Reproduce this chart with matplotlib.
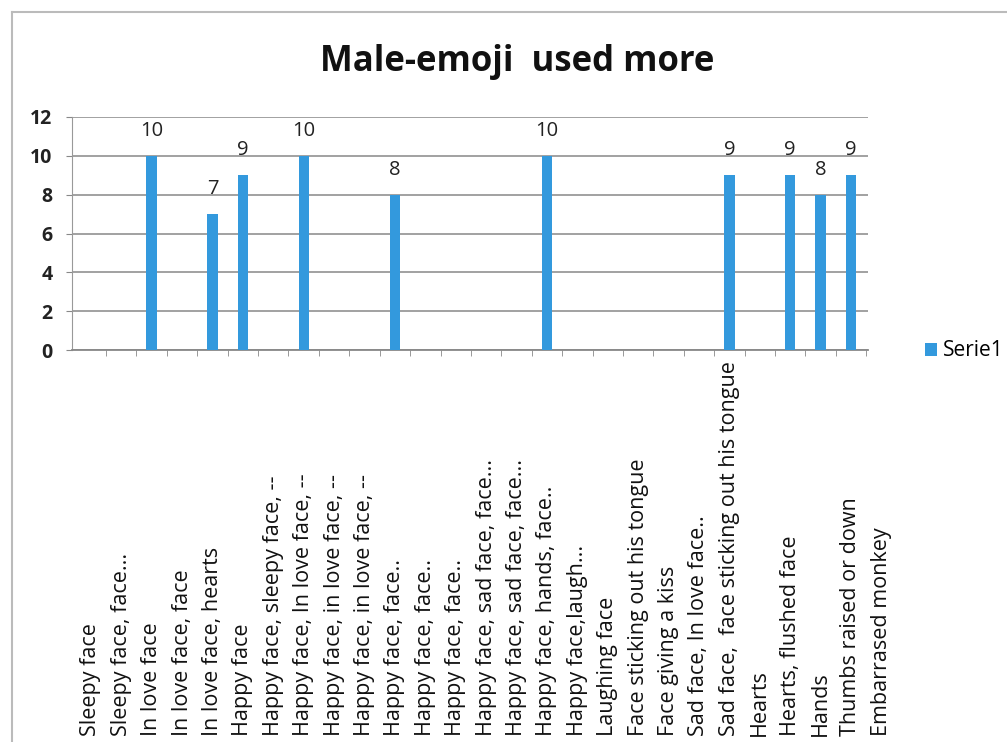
import matplotlib
matplotlib.use("Agg")
import matplotlib.pyplot as plt
import matplotlib.transforms as mtrans
from matplotlib.lines import Line2D
import numpy as np

plt.rcParams['font.family'] = ['Open Sans', 'DejaVu Sans']

categories = [
    "Sleepy face", "Sleepy face, face...", "In love face", "In love face, face",
    "In love face, hearts", "Happy face", "Happy face, sleepy face, --",
    "Happy face, In love face, --", "Happy face, in love face, --",
    "Happy face, in love face, --", "Happy face, face..", "Happy face, face..",
    "Happy face, face..", "Happy face, sad face, face...",
    "Happy face, sad face, face...", "Happy face, hands, face..",
    "Happy face,laugh...", "Laughing face", "Face sticking out his tongue",
    "Face giving a kiss", "Sad face, In love face..",
    "Sad face,  face sticking out his tongue", "Hearts", "Hearts, flushed face",
    "Hands", "Thumbs raised or down", "Embarrased monkey",
]
values = [0, 0, 10, 0, 7, 9, 0, 10, 0, 0, 8, 0, 0, 0, 0, 10, 0, 0, 0, 0, 0, 9, 0, 9, 8, 9, 0]
series_name = "Serie1"
title = "Male-emoji  used more"
yticks = [0, 2, 4, 6, 8, 10, 12]

fig = plt.figure(figsize=(10.07, 7.42), dpi=100)
ax = fig.add_axes([72/1007, 1 - 350/742, (868 - 72)/1007, (350 - 117)/742])

x = np.arange(len(categories))
bar_color = '#3399DD'
ax.bar(x, values, width=0.34, color=bar_color, label=series_name, zorder=3)

for xi, v in zip(x, values):
    if v > 0:
        ax.annotate(str(v), (xi, v), xytext=(0, 18), textcoords='offset points',
                    ha='center', va='center', fontsize=14.5, color='#222222')

ax.set_yticks(yticks)
ax.set_yticklabels([str(t) for t in yticks], fontsize=14, fontweight='bold', color='#222222')
ax.yaxis.grid(True, color='#9a9a9a', linewidth=1.3, zorder=0)
ax.set_axisbelow(True)
ax.tick_params(axis='y', length=4, color='#888888', pad=10)

ax.set_xticks([])
ax.set_xticks(np.arange(len(categories)) + 0.5, minor=True)
ax.tick_params(axis='x', which='minor', length=4, color='#888888', labelbottom=False)
ax.set_ylim(0, 12)
ax.set_xlim(-0.62, 25.56)

for s in ['top', 'right']:
    ax.spines[s].set_visible(False)
ax.spines['left'].set_color('#999999')
ax.spines['bottom'].set_color('#888888')
ax.spines['bottom'].set_linewidth(1.3)

# category labels (placed in data x, figure y)
trans = mtrans.blended_transform_factory(ax.transData, fig.transFigure)
for xi, lab in zip(x, categories):
    ax.text(xi, 1 - 736/742, lab, rotation=90, ha='center', va='bottom',
            fontsize=15.5, transform=trans, clip_on=False, color='#111111')

fig.text(517/1007, 1 - 62/742, title, ha='center', va='center',
         fontsize=25, fontweight='bold', color='#111111')

ax.legend(loc='center left', bbox_to_anchor=(906/1007, 1 - 351/742),
          bbox_transform=fig.transFigure, frameon=False, handlelength=0.6,
          handleheight=0.6, handletextpad=0.25, fontsize=15)

# outer chart frame
fig.add_artist(Line2D([12/1007, 1], [1 - 12/742, 1 - 12/742], transform=fig.transFigure,
                      color='#bbbbbb', linewidth=1.5))
fig.add_artist(Line2D([12/1007, 12/1007], [0, 1 - 12/742], transform=fig.transFigure,
                      color='#bbbbbb', linewidth=1.5))

fig.savefig("out.png", dpi=100)
